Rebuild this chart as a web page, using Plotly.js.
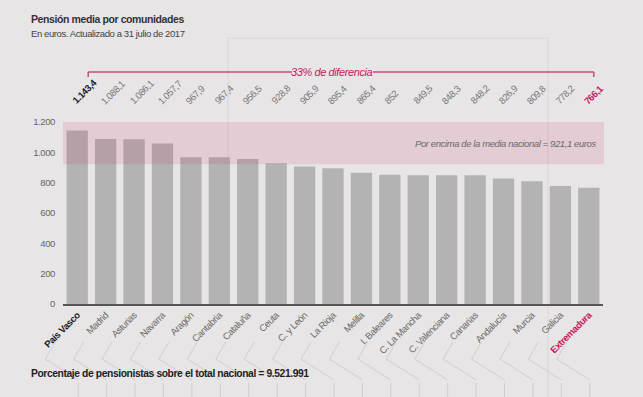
<!DOCTYPE html>
<html>
<head>
<meta charset="utf-8">
<script src="https://cdn.plot.ly/plotly-3.0.1.min.js"></script>
<style>
html,body{margin:0;padding:0;background:#e7e5e6;}
#chart{width:643px;height:397px;}
text{letter-spacing:-0.4px;}
</style>
</head>
<body>
<div id="chart"></div>
<script>
const categories = ["País Vasco","Madrid","Asturias","Navarra","Aragón","Cantabria","Cataluña","Ceuta","C. y León","La Rioja","Melilla","I. Baleares","C. La Mancha","C. Valenciana","Canarias","Andalucía","Murcia","Galicia","Extremadura"];
const pension = [1143.4,1088.1,1086.1,1057.7,967.9,967.4,956.5,928.8,905.9,895.4,865.4,852,849.5,848.3,848.2,826.9,809.8,778.2,766.1];
const nationalMean = 921.1;
const yTicks = [0,200,400,600,800,1000,1200];
const titleText = "Pensión media por comunidades";
const subtitleText = "En euros. Actualizado a 31 julio de 2017";
const diffText = "33% de diferencia";
const meanText = "Por encima de la media nacional = 921,1 euros";
const footText = "Porcentaje de pensionistas sobre el total nacional = 9.521.991";

const FONT = "Liberation Sans, Arial, sans-serif";
const MAG = "#c8175d";
const W = 643, H = 397, ML = 63, MR = 40, MT = 122, MB = 93;
const PW = W - ML - MR, PH = H - MT - MB;
const n = categories.length;
const py = p => (H - MB - p) / PH;          // pixel y -> paper y
const pxx = p => (p - ML) / PW;             // pixel x -> paper x
const cxPaper = i => (i + 0.5) / n;          // category centre in paper x
const dx = d => d / PW;

function fmt(v){
  let s = (Math.round(v*10)/10).toString();
  let [a,b] = s.split(".");
  a = a.replace(/\B(?=(\d{3})+(?!\d))/g, ".");
  return b ? a + "," + b : a;
}

const maxI = pension.indexOf(Math.max(...pension));
const minI = pension.indexOf(Math.min(...pension));

const tickText = categories.map((c,i)=>{
  if(i===maxI) return "<b><span style='color:#1a1a1a'>"+c+"</span></b>";
  if(i===minI) return "<b><span style='color:"+MAG+"'>"+c+"</span></b>";
  return c;
});

const annotations = [];
pension.forEach((v,i)=>{
  let color = "#777", txt = fmt(v);
  if(i===maxI){ color="#1a1a1a"; txt="<b>"+txt+"</b>"; }
  if(i===minI){ color=MAG; txt="<b>"+txt+"</b>"; }
  annotations.push({
    xref:"paper", yref:"paper", x: cxPaper(i) + dx(-10), y: py(109),
    xanchor:"left", yanchor:"bottom", text: txt, textangle:-45, showarrow:false,
    font:{family:FONT, size:9.5, color:color}
  });
});
annotations.push({xref:"paper",yref:"paper",x:pxx(29),y:py(19),xanchor:"left",yanchor:"middle",showarrow:false,
  text:"<b>"+titleText+"</b>", font:{family:FONT,size:10.5,color:"#333"}});
annotations.push({xref:"paper",yref:"paper",x:pxx(29),y:py(33),xanchor:"left",yanchor:"middle",showarrow:false,
  text:subtitleText, font:{family:FONT,size:9.5,color:"#444"}});
annotations.push({xref:"paper",yref:"paper",x:pxx(332),y:py(72),xanchor:"center",yanchor:"middle",showarrow:false,
  text:"<i>"+diffText+"</i>", font:{family:FONT,size:11,color:MAG}});
annotations.push({xref:"paper",yref:"paper",x:pxx(598),y:py(143),xanchor:"right",yanchor:"middle",showarrow:false,
  text:"<i>"+meanText+"</i>", font:{family:FONT,size:9.5,color:"#6a6a6a"}});
annotations.push({xref:"paper",yref:"paper",x:pxx(29),y:py(373),xanchor:"left",yanchor:"middle",showarrow:false,
  text:"<b>"+footText+"</b>", font:{family:FONT,size:10.3,color:"#222"}});

const shapes = [];
// faint background frame
const FAINT = "#d9d7d8";
shapes.push({type:"line",xref:"paper",yref:"paper",x0:pxx(228),x1:pxx(548),y0:py(38),y1:py(38),line:{color:FAINT,width:1},layer:"below"});
shapes.push({type:"line",xref:"paper",yref:"paper",x0:pxx(228),x1:pxx(228),y0:py(38),y1:py(247),line:{color:FAINT,width:1},layer:"below"});
shapes.push({type:"line",xref:"paper",yref:"paper",x0:pxx(548),x1:pxx(548),y0:py(38),y1:py(397),line:{color:FAINT,width:1},layer:"below"});
// mean band
shapes.push({type:"rect",xref:"paper",yref:"y",x0:0,x1:pxx(604),y0:nationalMean,y1:1200,
  fillcolor:"rgba(200,40,95,0.13)",line:{width:0},layer:"above"});
// bracket
const BR = "#c9487c";
shapes.push({type:"line",xref:"paper",yref:"paper",x0:cxPaper(maxI)+dx(11),x1:pxx(292),y0:py(72),y1:py(72),line:{color:BR,width:1.5}});
shapes.push({type:"line",xref:"paper",yref:"paper",x0:pxx(373),x1:cxPaper(minI)+dx(5),y0:py(72),y1:py(72),line:{color:BR,width:1.5}});
shapes.push({type:"line",xref:"paper",yref:"paper",x0:cxPaper(maxI)+dx(11),x1:cxPaper(maxI)+dx(11),y0:py(72),y1:py(77),line:{color:BR,width:1.5}});
shapes.push({type:"line",xref:"paper",yref:"paper",x0:cxPaper(minI)+dx(5),x1:cxPaper(minI)+dx(5),y0:py(72),y1:py(77),line:{color:BR,width:1.5}});
// leader lines
const LL = "#d0cecf";
for(let i=0;i<n;i++){
  const c = cxPaper(i);
  shapes.push({type:"line",xref:"paper",yref:"paper",x0:c+dx(-22),x1:c+dx(-32),y0:py(342),y1:py(359),line:{color:LL,width:1}});
  shapes.push({type:"line",xref:"paper",yref:"paper",x0:c+dx(-32),x1:c+dx(1),y0:py(359),y1:py(380),line:{color:LL,width:1}});
  shapes.push({type:"line",xref:"paper",yref:"paper",x0:c+dx(1),x1:c+dx(1),y0:py(383),y1:py(397),line:{color:LL,width:1}});
}

const trace = {
  type:"bar", x: categories, y: pension,
  marker:{color:"#b3b3b3", line:{width:0}},
  hoverinfo:"skip"
};

const layout = {
  width: W, height: H,
  margin:{l:ML, r:MR, t:MT, b:MB, pad:0},
  paper_bgcolor:"#e7e5e6", plot_bgcolor:"#e7e5e6",
  separators: ",.",
  bargap: 0.25,
  showlegend:false,
  font:{family:FONT, color:"#666"},
  xaxis:{
    type:"category", tickmode:"array", tickvals: categories, ticktext: tickText,
    tickangle:-45, tickfont:{family:FONT,size:9.5,color:"#6a6a6a"},
    showline:true, linecolor:"#555", linewidth:2, ticks:"", showgrid:false,
    range:[-0.5, n-0.5], fixedrange:true
  },
  yaxis:{
    range:[0,1200], tickmode:"array", tickvals:yTicks, tickformat:",d",
    showgrid:false, zeroline:false, showline:false, ticks:"",
    tickfont:{family:FONT,size:9.5,color:"#666"}, ticklabelstandoff:7
  },
  annotations: annotations,
  shapes: shapes
};

Plotly.newPlot("chart",[trace],layout,{staticPlot:true});
</script>
</body>
</html>
